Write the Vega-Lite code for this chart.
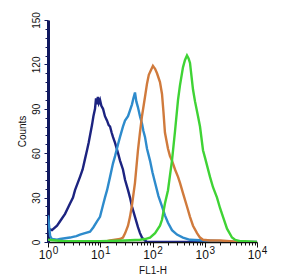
{
  "$schema": "https://vega.github.io/schema/vega-lite/v6.json",
  "width": 209,
  "height": 222,
  "autosize": "none",
  "padding": {"left": 48, "top": 20, "right": 28, "bottom": 38},
  "background": "white",
  "config": {
    "view": {"stroke": null},
    "font": "Liberation Sans",
    "axis": {"grid": false, "labelFont": "Liberation Sans", "titleFont": "Liberation Sans", "titleFontWeight": "normal", "labelColor": "#111", "titleColor": "#111"}
  },
  "datasets": {
    "hist": [
      {"s": "iso", "fl": 1.0, "n": 9}, {"s": "iso", "fl": 1.19, "n": 8}, {"s": "iso", "fl": 1.49, "n": 11}, {"s": "iso", "fl": 1.7, "n": 14},
      {"s": "iso", "fl": 2.12, "n": 19}, {"s": "iso", "fl": 2.64, "n": 26}, {"s": "iso", "fl": 3.01, "n": 30}, {"s": "iso", "fl": 3.29, "n": 35},
      {"s": "iso", "fl": 4.1, "n": 44}, {"s": "iso", "fl": 4.6, "n": 49}, {"s": "iso", "fl": 5.1, "n": 56}, {"s": "iso", "fl": 5.58, "n": 62},
      {"s": "iso", "fl": 6.0, "n": 67}, {"s": "iso", "fl": 6.37, "n": 72}, {"s": "iso", "fl": 6.95, "n": 79}, {"s": "iso", "fl": 7.4, "n": 85},
      {"s": "iso", "fl": 7.94, "n": 90}, {"s": "iso", "fl": 8.3, "n": 97}, {"s": "iso", "fl": 8.67, "n": 93}, {"s": "iso", "fl": 9.0, "n": 98},
      {"s": "iso", "fl": 9.4, "n": 94}, {"s": "iso", "fl": 9.89, "n": 96}, {"s": "iso", "fl": 10.5, "n": 92}, {"s": "iso", "fl": 11.3, "n": 90},
      {"s": "iso", "fl": 12.3, "n": 85}, {"s": "iso", "fl": 13.5, "n": 82}, {"s": "iso", "fl": 14.5, "n": 79}, {"s": "iso", "fl": 15.4, "n": 78},
      {"s": "iso", "fl": 16.5, "n": 74}, {"s": "iso", "fl": 17.5, "n": 71}, {"s": "iso", "fl": 19.2, "n": 67}, {"s": "iso", "fl": 21.9, "n": 60},
      {"s": "iso", "fl": 23.9, "n": 55}, {"s": "iso", "fl": 27.2, "n": 49}, {"s": "iso", "fl": 29.8, "n": 42}, {"s": "iso", "fl": 34.0, "n": 35},
      {"s": "iso", "fl": 37.1, "n": 30}, {"s": "iso", "fl": 40.5, "n": 24}, {"s": "iso", "fl": 46.2, "n": 17}, {"s": "iso", "fl": 52.7, "n": 10},
      {"s": "iso", "fl": 57.6, "n": 6}, {"s": "iso", "fl": 62.9, "n": 3}, {"s": "iso", "fl": 71.8, "n": 1}, {"s": "iso", "fl": 78.5, "n": 0},
      {"s": "iso", "fl": 300, "n": 0}, {"s": "iso", "fl": 3000, "n": 0}, {"s": "iso", "fl": 10000, "n": 0},

      {"s": "a", "fl": 1.0, "n": 18}, {"s": "a", "fl": 1.1, "n": 4}, {"s": "a", "fl": 1.19, "n": 2}, {"s": "a", "fl": 1.49, "n": 1.5},
      {"s": "a", "fl": 1.7, "n": 2}, {"s": "a", "fl": 2.12, "n": 2.5}, {"s": "a", "fl": 2.64, "n": 3}, {"s": "a", "fl": 3.01, "n": 3.5},
      {"s": "a", "fl": 3.5, "n": 4}, {"s": "a", "fl": 4.1, "n": 5}, {"s": "a", "fl": 5.1, "n": 6}, {"s": "a", "fl": 6.37, "n": 7},
      {"s": "a", "fl": 7.4, "n": 10}, {"s": "a", "fl": 8.67, "n": 14}, {"s": "a", "fl": 9.89, "n": 17}, {"s": "a", "fl": 11.3, "n": 25},
      {"s": "a", "fl": 12.3, "n": 30}, {"s": "a", "fl": 13.5, "n": 35}, {"s": "a", "fl": 15.4, "n": 44}, {"s": "a", "fl": 17.5, "n": 53},
      {"s": "a", "fl": 19.2, "n": 58}, {"s": "a", "fl": 21.9, "n": 66}, {"s": "a", "fl": 23.9, "n": 71}, {"s": "a", "fl": 27.2, "n": 78},
      {"s": "a", "fl": 29.8, "n": 82}, {"s": "a", "fl": 34.0, "n": 85}, {"s": "a", "fl": 37.1, "n": 89}, {"s": "a", "fl": 40.5, "n": 93},
      {"s": "a", "fl": 43.0, "n": 97}, {"s": "a", "fl": 46.2, "n": 101}, {"s": "a", "fl": 49.0, "n": 95}, {"s": "a", "fl": 52.7, "n": 91},
      {"s": "a", "fl": 57.6, "n": 85}, {"s": "a", "fl": 62.9, "n": 80}, {"s": "a", "fl": 67.0, "n": 75}, {"s": "a", "fl": 71.8, "n": 71},
      {"s": "a", "fl": 78.5, "n": 63}, {"s": "a", "fl": 89.6, "n": 55}, {"s": "a", "fl": 100, "n": 47}, {"s": "a", "fl": 112, "n": 40},
      {"s": "a", "fl": 130, "n": 31}, {"s": "a", "fl": 152, "n": 24}, {"s": "a", "fl": 173, "n": 18}, {"s": "a", "fl": 198, "n": 13},
      {"s": "a", "fl": 236, "n": 8}, {"s": "a", "fl": 294, "n": 5}, {"s": "a", "fl": 383, "n": 3}, {"s": "a", "fl": 522, "n": 1.5},
      {"s": "a", "fl": 1000, "n": 1}, {"s": "a", "fl": 2236, "n": 0.5}, {"s": "a", "fl": 4000, "n": 0},

      {"s": "b", "fl": 12.3, "n": 0}, {"s": "b", "fl": 13.5, "n": 0.5}, {"s": "b", "fl": 15.4, "n": 1}, {"s": "b", "fl": 19.2, "n": 1.5},
      {"s": "b", "fl": 23.9, "n": 2}, {"s": "b", "fl": 27.2, "n": 3}, {"s": "b", "fl": 30.0, "n": 6}, {"s": "b", "fl": 34.0, "n": 11},
      {"s": "b", "fl": 37.1, "n": 17}, {"s": "b", "fl": 40.5, "n": 25}, {"s": "b", "fl": 46.2, "n": 40}, {"s": "b", "fl": 52.7, "n": 62},
      {"s": "b", "fl": 57.6, "n": 74}, {"s": "b", "fl": 62.9, "n": 85}, {"s": "b", "fl": 71.8, "n": 98}, {"s": "b", "fl": 78.5, "n": 107},
      {"s": "b", "fl": 85.0, "n": 113}, {"s": "b", "fl": 96.0, "n": 117}, {"s": "b", "fl": 102, "n": 119}, {"s": "b", "fl": 107, "n": 118},
      {"s": "b", "fl": 112, "n": 117}, {"s": "b", "fl": 122, "n": 114}, {"s": "b", "fl": 139, "n": 108}, {"s": "b", "fl": 152, "n": 100},
      {"s": "b", "fl": 162, "n": 88}, {"s": "b", "fl": 173, "n": 74}, {"s": "b", "fl": 198, "n": 63}, {"s": "b", "fl": 216, "n": 58},
      {"s": "b", "fl": 236, "n": 55}, {"s": "b", "fl": 270, "n": 49}, {"s": "b", "fl": 308, "n": 44}, {"s": "b", "fl": 336, "n": 40},
      {"s": "b", "fl": 383, "n": 33}, {"s": "b", "fl": 457, "n": 24}, {"s": "b", "fl": 522, "n": 17}, {"s": "b", "fl": 596, "n": 11},
      {"s": "b", "fl": 711, "n": 6}, {"s": "b", "fl": 811, "n": 3}, {"s": "b", "fl": 926, "n": 1.5}, {"s": "b", "fl": 1260, "n": 1},
      {"s": "b", "fl": 1959, "n": 1}, {"s": "b", "fl": 3043, "n": 0.5}, {"s": "b", "fl": 4732, "n": 0},

      {"s": "c", "fl": 1.0, "n": 1.5}, {"s": "c", "fl": 2.0, "n": 0.5}, {"s": "c", "fl": 10.0, "n": 0.5}, {"s": "c", "fl": 30.0, "n": 1},
      {"s": "c", "fl": 57.6, "n": 1.5}, {"s": "c", "fl": 71.8, "n": 2}, {"s": "c", "fl": 89.6, "n": 3}, {"s": "c", "fl": 112, "n": 6},
      {"s": "c", "fl": 139, "n": 11}, {"s": "c", "fl": 152, "n": 15}, {"s": "c", "fl": 173, "n": 26}, {"s": "c", "fl": 198, "n": 35},
      {"s": "c", "fl": 216, "n": 45}, {"s": "c", "fl": 236, "n": 55}, {"s": "c", "fl": 270, "n": 75}, {"s": "c", "fl": 308, "n": 96},
      {"s": "c", "fl": 336, "n": 106}, {"s": "c", "fl": 383, "n": 118}, {"s": "c", "fl": 419, "n": 123}, {"s": "c", "fl": 457, "n": 126},
      {"s": "c", "fl": 490, "n": 124}, {"s": "c", "fl": 522, "n": 121}, {"s": "c", "fl": 596, "n": 103}, {"s": "c", "fl": 651, "n": 95},
      {"s": "c", "fl": 743, "n": 85}, {"s": "c", "fl": 811, "n": 78}, {"s": "c", "fl": 926, "n": 62}, {"s": "c", "fl": 1011, "n": 57},
      {"s": "c", "fl": 1260, "n": 44}, {"s": "c", "fl": 1438, "n": 37}, {"s": "c", "fl": 1716, "n": 30}, {"s": "c", "fl": 1959, "n": 23},
      {"s": "c", "fl": 2236, "n": 17}, {"s": "c", "fl": 2667, "n": 9}, {"s": "c", "fl": 3324, "n": 3}, {"s": "c", "fl": 3795, "n": 1.5},
      {"s": "c", "fl": 4732, "n": 0.5}, {"s": "c", "fl": 5891, "n": 0.5}, {"s": "c", "fl": 10000, "n": 0}
    ]
  },
  "data": {"name": "hist"},
  "layer": [
    {
      "mark": {"type": "line", "interpolate": "linear", "clip": true},
      "encoding": {
        "x": {
          "field": "fl", "type": "quantitative",
          "scale": {"type": "log", "domain": [1, 10000], "nice": false},
          "axis": {
            "orient": "bottom",
            "values": [1, 10, 100, 1000, 10000],
            "labelExpr": "'10'",
            "labelFontSize": 12, "labelPadding": 2, "labelFlush": false, "labelOffset": -3, "labelOverlap": false,
            "tickSize": 5, "tickColor": "#111", "tickWidth": 1,
            "domainColor": "#111", "domainWidth": 1.5,
            "title": "FL1-H", "titleFontSize": 10, "titlePadding": 5
          }
        },
        "y": {
          "field": "n", "type": "quantitative",
          "scale": {"domain": [0, 150], "nice": false},
          "axis": {
            "orient": "left",
            "values": [0, 30, 60, 90, 120, 150],
            "labelAngle": -90, "labelFontSize": 10, "labelPadding": 3,
            "tickSize": 4, "tickColor": "#10185e", "tickWidth": 1,
            "domainColor": "#10185e", "domainWidth": 3,
            "title": "Counts", "titleFontSize": 10, "titlePadding": 4
          }
        },
        "color": {
          "field": "s", "type": "nominal", "legend": null,
          "scale": {"domain": ["a", "b", "c", "iso"], "range": ["#2e8bcc", "#d07a3c", "#3fd335", "#1c2380"]}
        },
        "strokeWidth": {
          "field": "s", "type": "nominal", "legend": null,
          "scale": {"domain": ["a", "b", "c", "iso"], "range": [2.4, 2.4, 2.2, 1]}
        }
      }
    },
    {
      "mark": {"type": "rule", "opacity": 0},
      "encoding": {
        "x": {
          "datum": 1, "type": "quantitative",
          "axis": {
            "orient": "bottom",
            "values": [2,3,4,5,6,7,8,9,20,30,40,50,60,70,80,90,200,300,400,500,600,700,800,900,2000,3000,4000,5000,6000,7000,8000,9000],
            "labels": false, "tickSize": 3, "tickColor": "#111", "domain": false, "title": null
          }
        },
        "y": {
          "datum": 0, "type": "quantitative",
          "axis": {
            "orient": "left",
            "values": [6,12,18,24,36,42,48,54,66,72,78,84,96,102,108,114,126,132,138,144],
            "labels": false, "tickSize": 3, "tickColor": "#10185e", "domain": false, "title": null
          }
        }
      }
    },
    {
      "mark": {"type": "rule", "opacity": 0},
      "encoding": {
        "x": {
          "datum": 1, "type": "quantitative",
          "axis": {
            "orient": "bottom",
            "values": [1, 10, 100, 1000, 10000],
            "labelExpr": "format(log(datum.value)/log(10), '.0f')",
            "labelFontSize": 10, "labelPadding": -2, "labelFlush": false, "labelOffset": 7, "labelOverlap": false,
            "tickSize": 5, "tickOpacity": 0, "domain": false, "title": null
          }
        }
      }
    }
  ],
  "resolve": {"axis": {"x": "independent", "y": "independent"}}
}
